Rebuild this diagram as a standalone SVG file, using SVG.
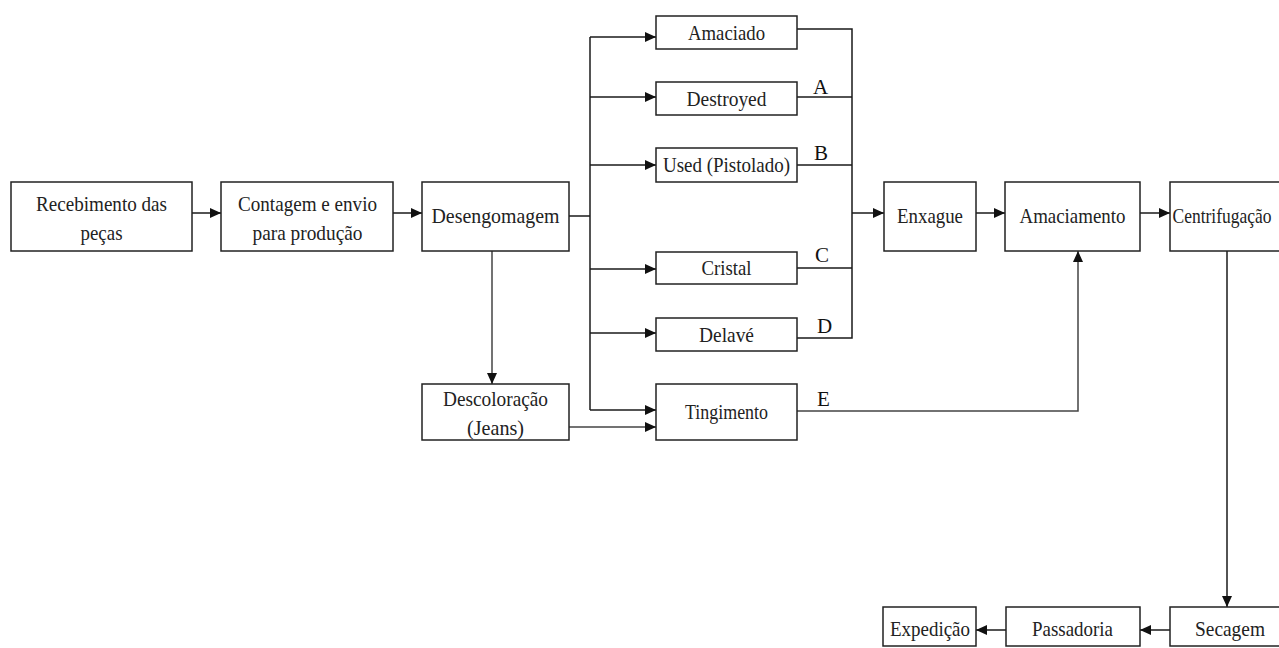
<svg xmlns="http://www.w3.org/2000/svg" width="1279" height="648" viewBox="0 0 1279 648">
<style>
rect.b{fill:#fff;stroke:#222;stroke-width:1.5}
text{font-family:"Liberation Serif","Times New Roman",serif;font-size:21px;fill:#222;text-anchor:middle}
text.l{font-size:21px;text-anchor:start;fill:#111}
.c path{fill:none;stroke:#1a1a1a;stroke-width:1.5}
.c path.g{stroke:#444}
</style>
<defs>
<marker id="ah" markerUnits="userSpaceOnUse" markerWidth="12" markerHeight="10" refX="11" refY="5" orient="auto">
<path d="M0,0 L11,5 L0,10 z" fill="#111"/>
</marker>
</defs>
<rect width="1279" height="648" fill="#fff"/>
<g class="c" id="connectors">
<path d="M192,213 H221" marker-end="url(#ah)"/>
<path d="M393,213 H422" marker-end="url(#ah)"/>
<path d="M569,216 H590"/>
<path d="M590,37 V410"/>
<path d="M590,37 H656" marker-end="url(#ah)"/>
<path d="M590,97 H656" marker-end="url(#ah)"/>
<path d="M590,165 H656" marker-end="url(#ah)"/>
<path d="M590,269 H656" marker-end="url(#ah)"/>
<path d="M590,333 H656" marker-end="url(#ah)"/>
<path d="M590,410 H656" marker-end="url(#ah)"/>
<path d="M797,29 H852 V338 H797"/>
<path d="M797,97 H852"/>
<path d="M797,165 H852"/>
<path d="M797,268 H852"/>
<path d="M852,213 H884" marker-end="url(#ah)"/>
<path d="M976,213 H1005" marker-end="url(#ah)"/>
<path d="M1140,213 H1170" marker-end="url(#ah)"/>
<path class="g" d="M492,251 V384" marker-end="url(#ah)"/>
<path class="g" d="M569,427 H656" marker-end="url(#ah)"/>
<path class="g" d="M797,411 H1078 V251" marker-end="url(#ah)"/>
<path d="M1227,251 V607" marker-end="url(#ah)"/>
<path d="M1170,630 H1140" marker-end="url(#ah)"/>
<path d="M1006,630 H976" marker-end="url(#ah)"/>
</g>
<g id="labels">
<text class="l" x="813" y="94">A</text>
<text class="l" x="814" y="160">B</text>
<text class="l" x="815" y="262">C</text>
<text class="l" x="817" y="333">D</text>
<text class="l" x="817" y="406">E</text>
</g>
<g id="recebimento"><rect class="b" x="11" y="182" width="181" height="69"/>
<text x="101.5" y="211" textLength="131" lengthAdjust="spacingAndGlyphs">Recebimento das</text>
<text x="101.5" y="240" textLength="42" lengthAdjust="spacingAndGlyphs">peças</text></g>
<g id="contagem"><rect class="b" x="221" y="182" width="172" height="69"/>
<text x="307.5" y="211" textLength="139" lengthAdjust="spacingAndGlyphs">Contagem e envio</text>
<text x="307.5" y="240" textLength="110" lengthAdjust="spacingAndGlyphs">para produção</text></g>
<g id="desengomagem"><rect class="b" x="422" y="182" width="147" height="69"/>
<text x="495.5" y="223" textLength="128" lengthAdjust="spacingAndGlyphs">Desengomagem</text></g>
<g id="amaciado"><rect class="b" x="656" y="16" width="141" height="33"/>
<text x="726.5" y="40" textLength="77" lengthAdjust="spacingAndGlyphs">Amaciado</text></g>
<g id="destroyed"><rect class="b" x="656" y="82" width="141" height="33"/>
<text x="726.5" y="106" textLength="80" lengthAdjust="spacingAndGlyphs">Destroyed</text></g>
<g id="used"><rect class="b" x="656" y="148" width="141" height="34"/>
<text x="726.5" y="172" textLength="127" lengthAdjust="spacingAndGlyphs">Used (Pistolado)</text></g>
<g id="cristal"><rect class="b" x="656" y="252" width="141" height="32"/>
<text x="726.5" y="275" textLength="50" lengthAdjust="spacingAndGlyphs">Cristal</text></g>
<g id="delave"><rect class="b" x="656" y="318" width="141" height="33"/>
<text x="726.5" y="342" textLength="55" lengthAdjust="spacingAndGlyphs">Delavé</text></g>
<g id="tingimento"><rect class="b" x="656" y="384" width="141" height="56"/>
<text x="726.5" y="419" textLength="83" lengthAdjust="spacingAndGlyphs">Tingimento</text></g>
<g id="descoloracao"><rect class="b" x="422" y="384" width="147" height="56"/>
<text x="495.5" y="406" textLength="105" lengthAdjust="spacingAndGlyphs">Descoloração</text>
<text x="495.5" y="435" textLength="57" lengthAdjust="spacingAndGlyphs">(Jeans)</text></g>
<g id="enxague"><rect class="b" x="884" y="182" width="92" height="69"/>
<text x="930" y="223" textLength="66" lengthAdjust="spacingAndGlyphs">Enxague</text></g>
<g id="amaciamento"><rect class="b" x="1005" y="182" width="135" height="69"/>
<text x="1072.5" y="223" textLength="106" lengthAdjust="spacingAndGlyphs">Amaciamento</text></g>
<g id="centrifugacao"><rect class="b" x="1170" y="182" width="140" height="69"/>
<text x="1222" y="223" textLength="99" lengthAdjust="spacingAndGlyphs">Centrifugação</text></g>
<g id="secagem"><rect class="b" x="1170" y="607" width="140" height="39"/>
<text x="1230" y="636" textLength="70" lengthAdjust="spacingAndGlyphs">Secagem</text></g>
<g id="passadoria"><rect class="b" x="1006" y="607" width="134" height="39"/>
<text x="1072.5" y="636" textLength="81" lengthAdjust="spacingAndGlyphs">Passadoria</text></g>
<g id="expedicao"><rect class="b" x="883" y="607" width="93" height="39"/>
<text x="930" y="636" textLength="80" lengthAdjust="spacingAndGlyphs">Expedição</text></g>
</svg>
